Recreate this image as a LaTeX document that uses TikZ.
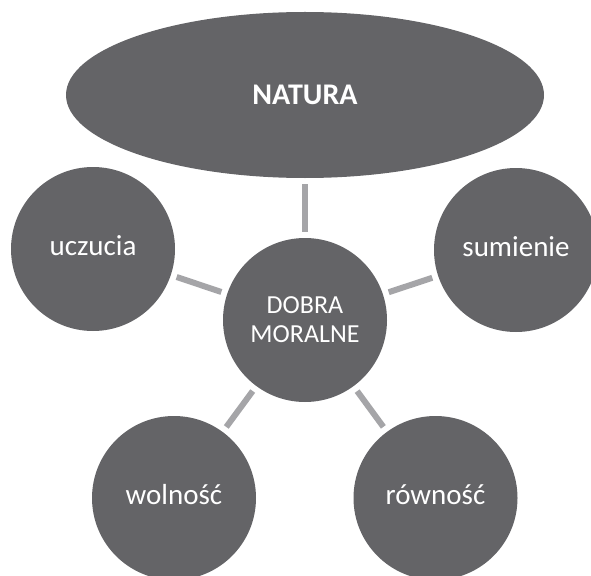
\documentclass[tikz,border=0pt]{standalone}
\usepackage{fontspec}
\setmainfont{Carlito}
\usetikzlibrary{shapes.geometric}

\definecolor{bubble}{RGB}{100,100,103}
\definecolor{spoke}{RGB}{165,165,168}

\tikzset{
  bubble/.style={circle, fill=bubble, draw=none, minimum size=164pt, inner sep=0pt,
    text=white, font=\fontsize{29}{35}\selectfont, text height=13.5pt, text depth=0pt},
  topbubble/.style={ellipse, fill=bubble, draw=none, minimum width=478pt, minimum height=166pt,
    inner sep=0pt, text=white, font=\fontsize{30}{36}\selectfont\bfseries,
    text height=19.3pt, text depth=0pt},
  hub/.style={circle, fill=bubble, draw=none, minimum size=164pt, inner sep=0pt,
    text=white, align=center, font=\fontsize{26}{29}\selectfont},
  spoke/.style={draw=spoke, line width=6pt, line cap=butt, shorten >=6pt, shorten <=6pt}
}

\begin{document}
\begin{tikzpicture}[x=1pt, y=-1pt]
  \useasboundingbox (0,0) rectangle (591,575);

  \node[topbubble] (natura) at (305,95) {NATURA};
  \node[hub] (dobra) at (305,320) {DOBRA\\MORALNE};
  \node[bubble] (uczucia) at (93,249) {uczucia};
  \node[bubble] (sumienie) at (516,250) {sumienie};
  \node[bubble] (wolnosc) at (174,498) {wolność};
  \node[bubble] (rownosc) at (435.5,498) {równość};

  \draw[spoke] (dobra) -- (natura);
  \draw[spoke] (dobra) -- (uczucia);
  \draw[spoke] (dobra) -- (sumienie);
  \draw[spoke] (dobra) -- (wolnosc);
  \draw[spoke] (dobra) -- (rownosc);
\end{tikzpicture}
\end{document}
